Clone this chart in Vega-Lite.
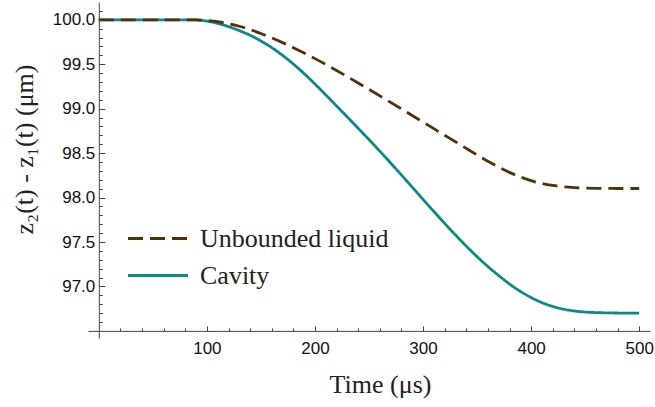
{
  "$schema": "https://vega.github.io/schema/vega-lite/v6.json",
  "width": 562,
  "height": 336,
  "autosize": {"type": "none"},
  "padding": {"left": 88, "top": 2, "right": 5, "bottom": 69},
  "background": "white",
  "config": {
    "view": {"stroke": null},
    "legend": {
      "orient": "none",
      "legendX": 53.5,
      "legendY": 220,
      "symbolType": "M-2,0H2",
      "symbolSize": 900,
      "symbolStrokeWidth": 3,
      "symbolFillColor": "transparent",
      "labelFont": "Liberation Serif",
      "labelFontSize": 26,
      "labelColor": "#222",
      "labelOffset": 25.5,
      "rowPadding": 7,
      "padding": 0,
      "labelLimit": 400
    }
  },
  "data": {
    "values": [
      {"t": 0, "series": "Cavity", "z": 100},
      {"t": 10, "series": "Cavity", "z": 100},
      {"t": 20, "series": "Cavity", "z": 100},
      {"t": 30, "series": "Cavity", "z": 100},
      {"t": 40, "series": "Cavity", "z": 100},
      {"t": 50, "series": "Cavity", "z": 100},
      {"t": 60, "series": "Cavity", "z": 100},
      {"t": 70, "series": "Cavity", "z": 100},
      {"t": 80, "series": "Cavity", "z": 99.9995},
      {"t": 90, "series": "Cavity", "z": 99.998},
      {"t": 100, "series": "Cavity", "z": 99.985},
      {"t": 110, "series": "Cavity", "z": 99.96},
      {"t": 120, "series": "Cavity", "z": 99.923},
      {"t": 130, "series": "Cavity", "z": 99.878},
      {"t": 140, "series": "Cavity", "z": 99.825},
      {"t": 150, "series": "Cavity", "z": 99.762},
      {"t": 160, "series": "Cavity", "z": 99.687},
      {"t": 170, "series": "Cavity", "z": 99.6},
      {"t": 180, "series": "Cavity", "z": 99.502},
      {"t": 190, "series": "Cavity", "z": 99.394},
      {"t": 200, "series": "Cavity", "z": 99.277},
      {"t": 210, "series": "Cavity", "z": 99.155},
      {"t": 220, "series": "Cavity", "z": 99.03},
      {"t": 230, "series": "Cavity", "z": 98.905},
      {"t": 240, "series": "Cavity", "z": 98.779},
      {"t": 250, "series": "Cavity", "z": 98.652},
      {"t": 260, "series": "Cavity", "z": 98.522},
      {"t": 270, "series": "Cavity", "z": 98.389},
      {"t": 280, "series": "Cavity", "z": 98.254},
      {"t": 290, "series": "Cavity", "z": 98.117},
      {"t": 300, "series": "Cavity", "z": 97.98},
      {"t": 310, "series": "Cavity", "z": 97.843},
      {"t": 320, "series": "Cavity", "z": 97.709},
      {"t": 330, "series": "Cavity", "z": 97.579},
      {"t": 340, "series": "Cavity", "z": 97.454},
      {"t": 350, "series": "Cavity", "z": 97.335},
      {"t": 360, "series": "Cavity", "z": 97.224},
      {"t": 370, "series": "Cavity", "z": 97.123},
      {"t": 380, "series": "Cavity", "z": 97.028},
      {"t": 390, "series": "Cavity", "z": 96.945},
      {"t": 400, "series": "Cavity", "z": 96.875},
      {"t": 410, "series": "Cavity", "z": 96.818},
      {"t": 420, "series": "Cavity", "z": 96.775},
      {"t": 430, "series": "Cavity", "z": 96.744},
      {"t": 440, "series": "Cavity", "z": 96.724},
      {"t": 450, "series": "Cavity", "z": 96.712},
      {"t": 460, "series": "Cavity", "z": 96.706},
      {"t": 470, "series": "Cavity", "z": 96.703},
      {"t": 480, "series": "Cavity", "z": 96.701},
      {"t": 490, "series": "Cavity", "z": 96.7},
      {"t": 500, "series": "Cavity", "z": 96.7},
      {"t": 0, "series": "Unbounded liquid", "z": 100},
      {"t": 10, "series": "Unbounded liquid", "z": 100},
      {"t": 20, "series": "Unbounded liquid", "z": 100},
      {"t": 30, "series": "Unbounded liquid", "z": 100},
      {"t": 40, "series": "Unbounded liquid", "z": 100},
      {"t": 50, "series": "Unbounded liquid", "z": 100},
      {"t": 60, "series": "Unbounded liquid", "z": 100},
      {"t": 70, "series": "Unbounded liquid", "z": 100},
      {"t": 80, "series": "Unbounded liquid", "z": 99.9998},
      {"t": 90, "series": "Unbounded liquid", "z": 99.999},
      {"t": 100, "series": "Unbounded liquid", "z": 99.993},
      {"t": 110, "series": "Unbounded liquid", "z": 99.978},
      {"t": 120, "series": "Unbounded liquid", "z": 99.956},
      {"t": 130, "series": "Unbounded liquid", "z": 99.927},
      {"t": 140, "series": "Unbounded liquid", "z": 99.89},
      {"t": 150, "series": "Unbounded liquid", "z": 99.846},
      {"t": 160, "series": "Unbounded liquid", "z": 99.796},
      {"t": 170, "series": "Unbounded liquid", "z": 99.743},
      {"t": 180, "series": "Unbounded liquid", "z": 99.686},
      {"t": 190, "series": "Unbounded liquid", "z": 99.626},
      {"t": 200, "series": "Unbounded liquid", "z": 99.563},
      {"t": 210, "series": "Unbounded liquid", "z": 99.498},
      {"t": 220, "series": "Unbounded liquid", "z": 99.43},
      {"t": 230, "series": "Unbounded liquid", "z": 99.36},
      {"t": 240, "series": "Unbounded liquid", "z": 99.289},
      {"t": 250, "series": "Unbounded liquid", "z": 99.217},
      {"t": 260, "series": "Unbounded liquid", "z": 99.144},
      {"t": 270, "series": "Unbounded liquid", "z": 99.071},
      {"t": 280, "series": "Unbounded liquid", "z": 98.997},
      {"t": 290, "series": "Unbounded liquid", "z": 98.923},
      {"t": 300, "series": "Unbounded liquid", "z": 98.849},
      {"t": 310, "series": "Unbounded liquid", "z": 98.775},
      {"t": 320, "series": "Unbounded liquid", "z": 98.701},
      {"t": 330, "series": "Unbounded liquid", "z": 98.628},
      {"t": 340, "series": "Unbounded liquid", "z": 98.553},
      {"t": 350, "series": "Unbounded liquid", "z": 98.479},
      {"t": 360, "series": "Unbounded liquid", "z": 98.408},
      {"t": 370, "series": "Unbounded liquid", "z": 98.342},
      {"t": 380, "series": "Unbounded liquid", "z": 98.283},
      {"t": 390, "series": "Unbounded liquid", "z": 98.232},
      {"t": 400, "series": "Unbounded liquid", "z": 98.19},
      {"t": 410, "series": "Unbounded liquid", "z": 98.158},
      {"t": 420, "series": "Unbounded liquid", "z": 98.136},
      {"t": 430, "series": "Unbounded liquid", "z": 98.121},
      {"t": 440, "series": "Unbounded liquid", "z": 98.112},
      {"t": 450, "series": "Unbounded liquid", "z": 98.107},
      {"t": 460, "series": "Unbounded liquid", "z": 98.104},
      {"t": 470, "series": "Unbounded liquid", "z": 98.103},
      {"t": 480, "series": "Unbounded liquid", "z": 98.102},
      {"t": 490, "series": "Unbounded liquid", "z": 98.102},
      {"t": 500, "series": "Unbounded liquid", "z": 98.102}
    ]
  },
  "mark": {"type": "line", "strokeWidth": 2.8, "interpolate": "monotone"},
  "encoding": {
    "x": {
      "field": "t",
      "type": "quantitative",
      "scale": {"domain": [-10, 510], "nice": false, "zero": false},
      "axis": {
        "orient": "bottom",
        "offset": -7.1,
        "grid": false,
        "values": [20, 40, 60, 80, 100, 120, 140, 160, 180, 200, 220, 240, 260, 280, 300, 320, 340, 360, 380, 400, 420, 440, 460, 480, 500],
        "labelExpr": "datum.value % 100 === 0 ? datum.label : ''",
        "tickSize": {"condition": {"test": "datum.value % 100 === 0", "value": -5}, "value": -3},
        "labelPadding": 15,
        "labelFont": "Liberation Sans",
        "labelFontSize": 17,
        "labelColor": "#111",
        "labelOverlap": false,
        "labelFlush": false,
        "domainColor": "#444",
        "tickColor": "#444",
        "title": "Time (μs)",
        "titleFont": "Liberation Serif",
        "titleFontSize": 26,
        "titleFontWeight": "normal",
        "titleColor": "#222",
        "titleX": 292,
        "titleY": 62,
        "titleBaseline": "alphabetic"
      }
    },
    "y": {
      "field": "z",
      "type": "quantitative",
      "scale": {"domain": [96.42, 100.2], "nice": false, "zero": false},
      "axis": {
        "orient": "left",
        "offset": -10.8,
        "grid": false,
        "values": [96.6, 96.7, 96.8, 96.9, 97, 97.1, 97.2, 97.3, 97.4, 97.5, 97.6, 97.7, 97.8, 97.9, 98, 98.1, 98.2, 98.3, 98.4, 98.5, 98.6, 98.7, 98.8, 98.9, 99, 99.1, 99.2, 99.3, 99.4, 99.5, 99.6, 99.7, 99.8, 99.9, 100, 100.1],
        "labelExpr": "abs(datum.value*2 - round(datum.value*2)) < 0.01 ? format(datum.value, '.1f') : ''",
        "tickSize": {"condition": {"test": "abs(datum.value*2 - round(datum.value*2)) < 0.01", "value": -6}, "value": -3.5},
        "labelPadding": 10,
        "labelFont": "Liberation Sans",
        "labelFontSize": 17,
        "labelColor": "#111",
        "labelOverlap": false,
        "labelFlush": false,
        "domainColor": "#444",
        "tickColor": "#444",
        "title": "z₂(t) - z₁(t) (μm)",
        "titleFont": "Liberation Serif",
        "titleFontSize": 26,
        "titleFontWeight": "normal",
        "titleColor": "#222",
        "titleAngle": -90,
        "titleX": -66,
        "titleY": 147,
        "titleBaseline": "alphabetic"
      }
    },
    "color": {
      "field": "series",
      "type": "nominal",
      "scale": {"domain": ["Unbounded liquid", "Cavity"], "range": ["#4f3208", "#0b8a8a"]},
      "legend": {"title": null}
    },
    "strokeDash": {
      "field": "series",
      "type": "nominal",
      "scale": {"domain": ["Unbounded liquid", "Cavity"], "range": [[15, 7], [1, 0]]},
      "legend": {"title": null}
    }
  }
}
